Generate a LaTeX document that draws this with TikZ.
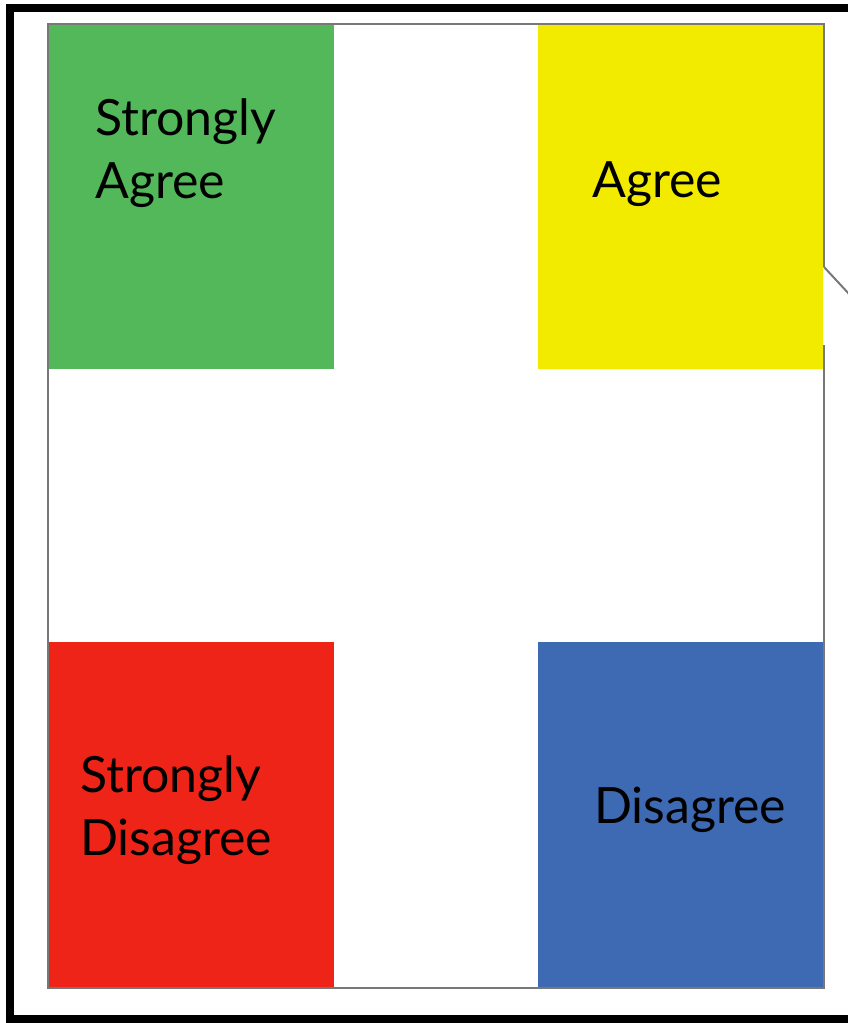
\documentclass[tikz,border=0pt]{standalone}
\usepackage{fontspec}
\setmainfont{Lato}
\definecolor{sagree}{RGB}{82,184,90}
\definecolor{agree}{RGB}{242,235,0}
\definecolor{sdis}{RGB}{238,36,24}
\definecolor{dis}{RGB}{62,106,180}
\definecolor{edge}{RGB}{120,120,120}
\tikzset{
  cell/.style={fill=#1, draw=none},
  lbl/.style={anchor=base west, inner sep=0pt, align=left, font=\fontsize{50}{63}\selectfont, text=black},
  frame/.style={draw=black, line width=8pt},
  thin/.style={draw=edge, line width=2pt}
}
\begin{document}
\begin{tikzpicture}[x=1pt,y=-1pt]
\useasboundingbox (0,0) rectangle (848,1023);
\clip (0,0) rectangle (848,1023);
\draw[frame] (10,8) rectangle (860,1019);
% cells
\path[cell=sagree] (48,24) rectangle (334,369);
\path[cell=agree] (538,24) rectangle (823,369);
\path[cell=sdis] (48,642) rectangle (334,988);
\path[cell=dis] (538,642) rectangle (824,988);
% thin outline
\coordinate (tl) at (48,24);
\coordinate (tr) at (824,24);
\coordinate (rb1) at (824,267);
\coordinate (off) at (850,295);
\coordinate (rt2) at (824,345);
\coordinate (br) at (824,988);
\coordinate (bl) at (48,988);
\draw[thin] (rb1) -- (tr) -- (tl) -- (bl) -- (br) -- (rt2);
\draw[thin] (rb1) -- (off);
% labels
\node[lbl] (t1) at (95,198) {Strongly\\Agree};
\node[lbl] (t2) at (592,197) {Agree};
\node[lbl] (t3) at (80,855) {Strongly\\Disagree};
\node[lbl] (t4) at (594,823) {Disagree};
\end{tikzpicture}
\end{document}
